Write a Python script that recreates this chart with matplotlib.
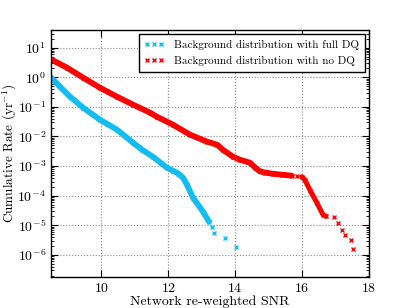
import matplotlib
matplotlib.use("Agg")
import matplotlib.pyplot as plt
from matplotlib.lines import Line2D
import numpy as np

plt.rcParams['font.family'] = 'serif'
plt.rcParams['font.serif'] = ['cmr10']
plt.rcParams['mathtext.fontset'] = 'cm'
plt.rcParams['axes.unicode_minus'] = False
plt.rcParams['axes.formatter.use_mathtext'] = True

# Background with full DQ: dense part and sparse tail
full_snr = [8.40, 8.77, 9.07, 9.46, 9.96, 10.47, 10.95, 11.22, 11.54, 11.96,
            12.14, 12.30, 12.44, 12.56, 12.74, 13.04, 13.22]
full_rate = [1.30, 0.481, 0.221, 0.094, 0.037, 0.017, 0.00618, 0.00358, 0.00208,
             8.84e-4, 7.0e-4, 5.6e-4, 4.06e-4, 2.35e-4, 8.56e-5, 2.88e-5, 1.32e-5]
full_tail_snr = [13.31, 13.37, 13.69, 14.02]
full_tail_rate = [8.97e-6, 5.62e-6, 3.81e-6, 1.89e-6]

# Background with no DQ
nodq_snr = [8.40, 8.98, 9.46, 9.96, 10.47, 10.95, 11.46, 11.66, 12.14, 12.65,
            13.16, 13.46, 13.63, 13.93, 14.14, 14.44, 14.60, 14.74, 14.90, 15.13,
            15.40, 15.69]
nodq_rate = [4.6, 2.11, 0.97, 0.446, 0.221, 0.119, 0.0637, 0.0467, 0.0251, 0.0115,
             0.00667, 0.00528, 0.00358, 0.00208, 0.00164, 0.0013, 8.9e-4, 6.6e-4,
             6.0e-4, 5.5e-4, 5.1e-4, 4.74e-4]
nodq_mid_snr = [15.84]
nodq_mid_rate = [4.70e-4]
nodq_drop_snr = [15.99, 16.08, 16.23, 16.44, 16.62, 16.71]
nodq_drop_rate = [4.38e-4, 3.47e-4, 1.58e-4, 5.75e-5, 2.29e-5, 2.0e-5]
nodq_tail_snr = [16.95, 17.07, 17.19, 17.28, 17.46, 17.51]
nodq_tail_rate = [1.95e-5, 1.23e-5, 7.1e-6, 4.8e-6, 3.24e-6, 1.62e-6]

blue = '#13BDF2'
red = '#FF0000'

fig = plt.figure(figsize=(4.11, 3.08), dpi=100)
ax = fig.add_axes([0.124, 0.101, 0.774, 0.802])

line_kw = dict(solid_capstyle='round', solid_joinstyle='round')
ax.plot(full_snr, full_rate, '-', color=blue, lw=4.2, **line_kw)
ax.plot(full_snr + full_tail_snr, full_rate + full_tail_rate, 'x', color=blue,
        ms=2.8, mew=1.0, ls='none')
ax.plot(nodq_snr, nodq_rate, '-', color=red, lw=4.2, **line_kw)
ax.plot(nodq_drop_snr, nodq_drop_rate, '-', color=red, lw=3.6, **line_kw)
ax.plot(nodq_snr + nodq_mid_snr + nodq_drop_snr + nodq_tail_snr,
        nodq_rate + nodq_mid_rate + nodq_drop_rate + nodq_tail_rate, 'x', color=red,
        ms=2.8, mew=1.0, ls='none')

ax.set_yscale('log')
ax.set_xlim(8.5, 18)
ax.set_ylim(1.8e-7, 40)
ax.set_xticks([10, 12, 14, 16, 18])
ax.set_yticks([1e-6, 1e-5, 1e-4, 1e-3, 1e-2, 1e-1, 1, 10])
ax.grid(True, which='major', ls=':', color='#888888', lw=0.8)
ax.tick_params(which='both', direction='in', top=True, right=True, labelsize=10)
ax.tick_params(which='major', length=5)
ax.tick_params(which='minor', length=2.5)
for s in ax.spines.values():
    s.set_linewidth(1.0)

ax.set_xlabel('Network re-weighted SNR', fontsize=10)
ax.set_ylabel('Cumulative Rate (yr$^{-1}$)', fontsize=9.5)
ax.xaxis.set_label_coords(0.5, -0.075)
ax.yaxis.set_label_coords(-0.102, 0.5)

handles = [Line2D([], [], marker='x', color=blue, ls='none', ms=2.8, mew=1.0),
           Line2D([], [], marker='x', color=red, ls='none', ms=2.8, mew=1.0)]
leg = ax.legend(handles, ['Background distribution with full DQ',
                          'Background distribution with no DQ'],
                loc='upper right', numpoints=3, fontsize=8.0, fancybox=False,
                framealpha=1, edgecolor='black', borderaxespad=0.4,
                handlelength=1.8, handletextpad=0.9, borderpad=0.5,
                labelspacing=0.55)
leg.get_frame().set_linewidth(1.0)

fig.savefig('out.png', dpi=100)
